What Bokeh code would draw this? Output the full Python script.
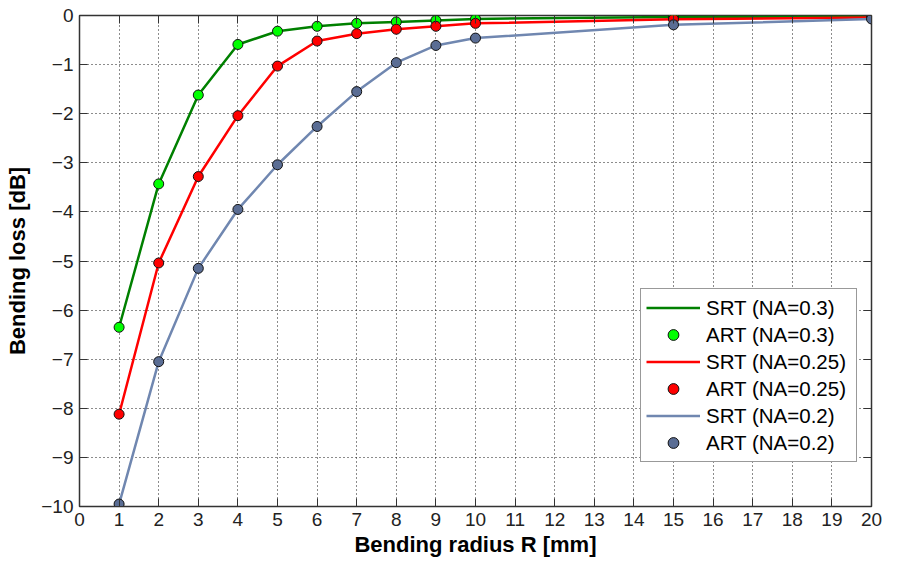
from bokeh.plotting import figure
from bokeh.models import (LinearAxis, FixedTicker, Range1d, Legend, LegendItem,
                          CustomLabelingPolicy)
from bokeh.embed import file_html
from bokeh.resources import INLINE

# Bending radius [mm]
radius = [1, 2, 3, 4, 5, 6, 7, 8, 9, 10, 15, 20]

# Bending loss [dB]
loss_na030 = [-6.35, -3.43, -1.62, -0.59, -0.32, -0.22, -0.16, -0.13, -0.10, -0.07, -0.03, -0.02]
loss_na025 = [-8.12, -5.04, -3.28, -2.04, -1.03, -0.52, -0.37, -0.28, -0.22, -0.16, -0.075, -0.04]
loss_na020 = [-9.95, -7.05, -5.15, -3.95, -3.04, -2.26, -1.55, -0.96, -0.61, -0.46, -0.19, -0.07]

series = [
    ("NA=0.3", loss_na030, "#008000", "#00ff00"),
    ("NA=0.25", loss_na025, "#ff0000", "#ff0000"),
    ("NA=0.2", loss_na020, "#7087b0", "#5a6d94"),
]

x_ticks = list(range(0, 21))
y_ticks = list(range(-10, 1))

FONT = "Liberation Sans"

p = figure(width=893, height=559, output_backend="svg", toolbar_location=None,
           x_range=Range1d(0, 20), y_range=Range1d(-10, 0),
           min_border_left=79, min_border_right=8, min_border_top=15, min_border_bottom=52)
p.background_fill_color = "white"
p.border_fill_color = "white"
p.outline_line_color = "#333333"
p.outline_line_width = 1.5

p.xaxis.ticker = FixedTicker(ticks=x_ticks)
p.yaxis.ticker = FixedTicker(ticks=y_ticks)

for ax in (p.xaxis[0], p.yaxis[0]):
    ax.major_tick_in = 8
    ax.major_tick_out = 0
    ax.minor_tick_in = 0
    ax.minor_tick_out = 0
    ax.axis_line_color = "#333333"
    ax.major_tick_line_color = "#333333"
    ax.major_label_text_font = FONT
    ax.major_label_text_font_size = "19px"
    ax.major_label_text_color = "#222222"
    ax.major_label_standoff = 6
    ax.axis_label_text_font = FONT
    ax.axis_label_text_font_style = "bold"
    ax.axis_label_text_font_size = "22px"
    ax.axis_label_text_color = "black"

p.xaxis.axis_label = "Bending radius R [mm]"
p.yaxis.axis_label = "Bending loss [dB]"
p.xaxis.axis_label_standoff = 3
p.yaxis.axis_label_standoff = 8

no_labels = CustomLabelingPolicy(
    code="const arr = [...indices]; for (const i of arr) indices.unset(i); return indices;")

for loc, tk in (("above", x_ticks), ("right", y_ticks)):
    ax = LinearAxis(ticker=FixedTicker(ticks=tk))
    ax.major_label_policy = no_labels
    ax.major_tick_in = 8
    ax.major_tick_out = 0
    ax.minor_tick_in = 0
    ax.minor_tick_out = 0
    ax.major_label_standoff = 0
    ax.axis_line_color = None
    ax.major_tick_line_color = "#333333"
    p.add_layout(ax, loc)

p.xgrid.ticker = FixedTicker(ticks=x_ticks)
p.ygrid.ticker = FixedTicker(ticks=y_ticks)
for g in (p.xgrid[0], p.ygrid[0]):
    g.grid_line_color = "black"
    g.grid_line_dash = "1 3"
    g.grid_line_width = 1
    g.grid_line_alpha = 0.9

items = []
for name, vals, lc, mc in series:
    ln = p.line(radius, vals, line_color=lc, line_width=2.5)
    sc = p.scatter(radius, vals, size=10, fill_color=mc, line_color="#111111", line_width=1)
    items.append(LegendItem(label="SRT (%s)" % name, renderers=[ln]))
    items.append(LegendItem(label="ART (%s)" % name, renderers=[sc]))

legend = Legend(items=items, location=(561, 44))
legend.label_text_font = FONT
legend.label_text_font_size = "20.5px"
legend.label_text_color = "black"
legend.glyph_width = 54
legend.glyph_height = 27
legend.label_height = 27
legend.label_width = 145
legend.spacing = 0
legend.padding = 5
legend.margin = 0
legend.label_standoff = 6
legend.border_line_color = "#333333"
legend.border_line_width = 1.5
legend.background_fill_color = "white"
legend.background_fill_alpha = 1
p.add_layout(legend, "center")

open("out.html", "w").write(file_html(p, INLINE))
